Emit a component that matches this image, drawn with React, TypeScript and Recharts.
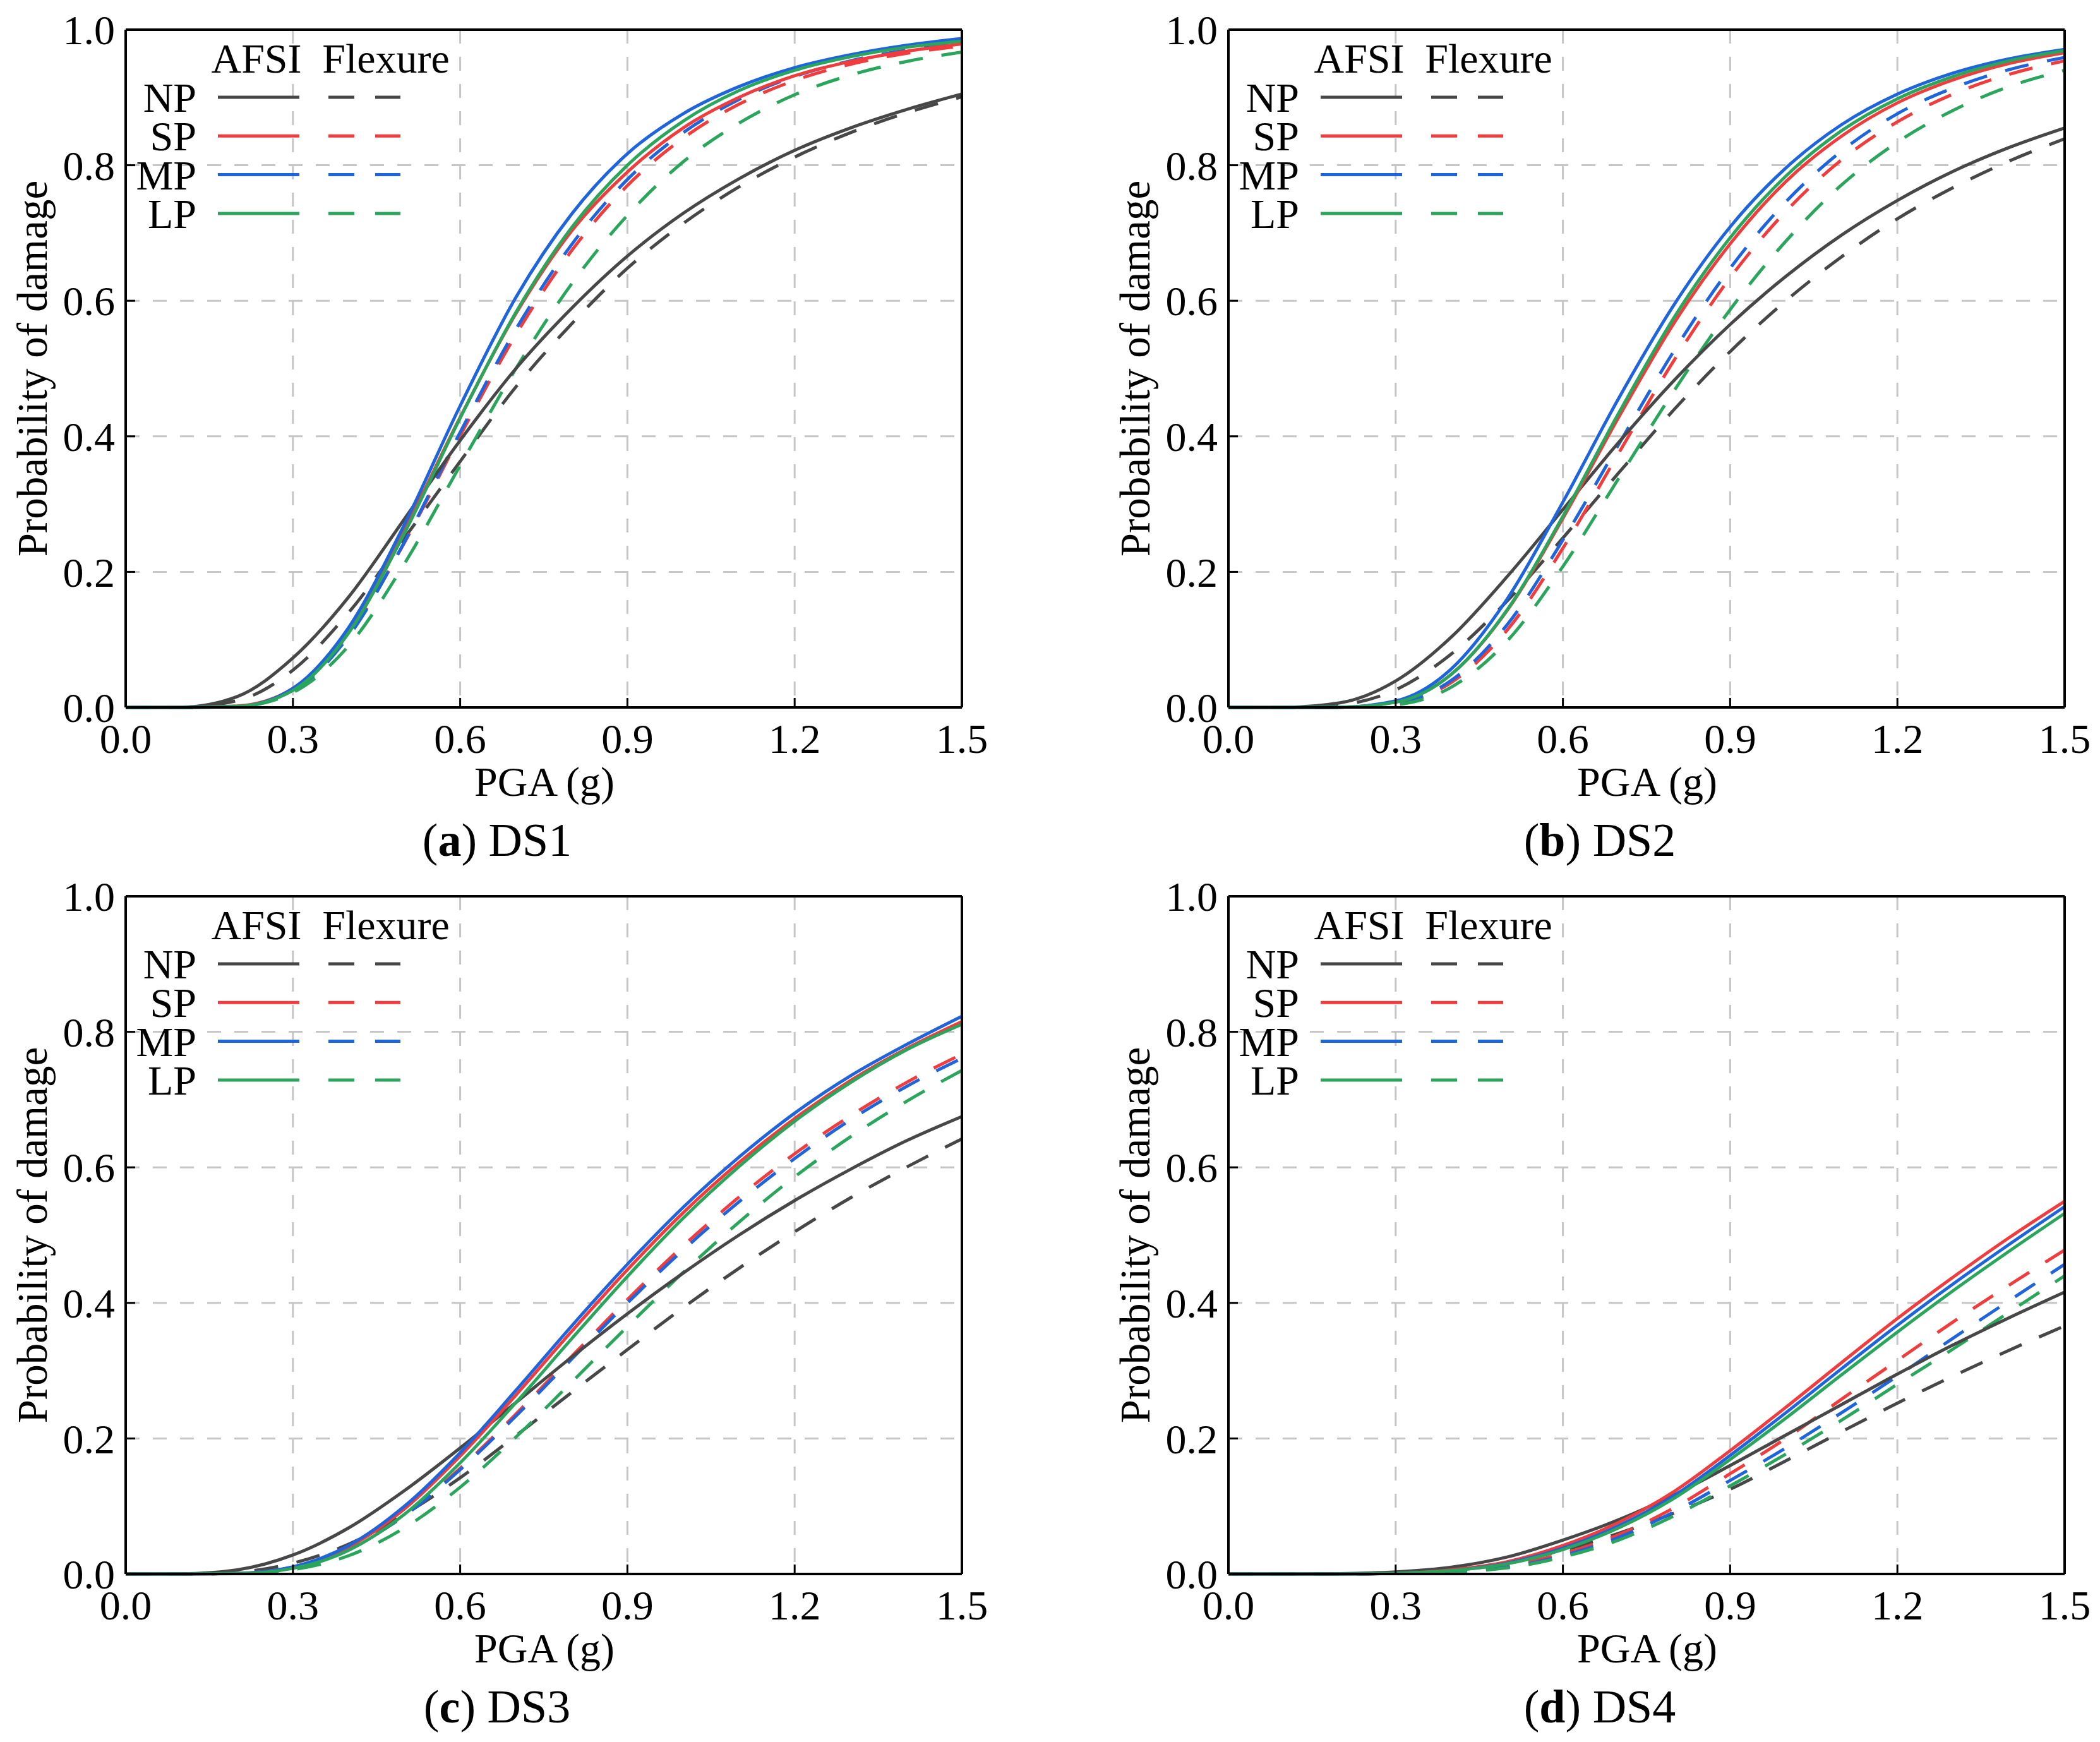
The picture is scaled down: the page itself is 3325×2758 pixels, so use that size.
import React from "react";
import { LineChart, Line, XAxis, YAxis, CartesianGrid } from "recharts";

// PGA sample points (g)
const pga = [0, 0.1, 0.2, 0.3, 0.4, 0.5, 0.6, 0.7, 0.8, 0.9, 1.0, 1.1, 1.2, 1.3, 1.4, 1.5];
const xTicks = [0, 0.3, 0.6, 0.9, 1.2, 1.5];
const yTicks = [0, 0.2, 0.4, 0.6, 0.8, 1.0];
const groups = ["NP", "SP", "MP", "LP"];
const colors = ["#474747", "#f03c3c", "#1e64dc", "#2aa55c"];

// DS1
const ds1NpAfsi = [0, 0.0004, 0.016, 0.073, 0.163, 0.278, 0.394, 0.5, 0.589, 0.666, 0.729, 0.78, 0.822, 0.855, 0.882, 0.905];
const ds1SpAfsi = [0, 0, 0.002, 0.028, 0.116, 0.262, 0.428, 0.581, 0.703, 0.79, 0.855, 0.9, 0.932, 0.953, 0.968, 0.979];
const ds1MpAfsi = [0, 0, 0.0013, 0.028, 0.118, 0.27, 0.445, 0.605, 0.728, 0.817, 0.876, 0.916, 0.944, 0.963, 0.977, 0.987];
const ds1LpAfsi = [0, 0, 0.0015, 0.025, 0.11, 0.257, 0.427, 0.583, 0.708, 0.8, 0.865, 0.91, 0.94, 0.96, 0.974, 0.983];
const ds1NpFlex = [0, 0.0002, 0.01, 0.055, 0.14, 0.25, 0.363, 0.473, 0.566, 0.648, 0.714, 0.768, 0.812, 0.848, 0.877, 0.901];
const ds1SpFlex = [0, 0, 0.0017, 0.026, 0.107, 0.243, 0.401, 0.55, 0.674, 0.77, 0.84, 0.89, 0.925, 0.949, 0.965, 0.976];
const ds1MpFlex = [0, 0, 0.0014, 0.024, 0.105, 0.244, 0.406, 0.558, 0.683, 0.779, 0.848, 0.897, 0.931, 0.954, 0.97, 0.981];
const ds1LpFlex = [0, 0, 0.0014, 0.022, 0.091, 0.212, 0.357, 0.5, 0.625, 0.726, 0.805, 0.862, 0.904, 0.933, 0.953, 0.967];

// DS2
const ds2NpAfsi = [0, 0.0001, 0.0067, 0.039, 0.104, 0.193, 0.292, 0.391, 0.483, 0.565, 0.636, 0.697, 0.748, 0.791, 0.826, 0.855];
const ds2SpAfsi = [0, 0, 0.0003, 0.008, 0.049, 0.143, 0.279, 0.428, 0.568, 0.684, 0.776, 0.843, 0.892, 0.926, 0.95, 0.966];
const ds2MpAfsi = [0, 0, 0.0003, 0.0096, 0.057, 0.16, 0.303, 0.456, 0.595, 0.709, 0.796, 0.86, 0.905, 0.936, 0.957, 0.971];
const ds2LpAfsi = [0, 0, 0.0003, 0.0076, 0.049, 0.144, 0.282, 0.434, 0.576, 0.693, 0.784, 0.851, 0.898, 0.931, 0.954, 0.969];
const ds2NpFlex = [0, 0, 0.0038, 0.026, 0.079, 0.157, 0.25, 0.346, 0.44, 0.525, 0.6, 0.665, 0.721, 0.767, 0.806, 0.839];
const ds2SpFlex = [0, 0, 0.0002, 0.0054, 0.037, 0.114, 0.235, 0.375, 0.513, 0.634, 0.732, 0.808, 0.864, 0.905, 0.934, 0.954];
const ds2MpFlex = [0, 0, 0.0002, 0.006, 0.04, 0.122, 0.247, 0.388, 0.527, 0.648, 0.746, 0.821, 0.876, 0.914, 0.941, 0.959];
const ds2LpFlex = [0, 0, 0.0001, 0.004, 0.03, 0.098, 0.208, 0.338, 0.468, 0.587, 0.688, 0.771, 0.834, 0.881, 0.916, 0.94];

// DS3
const ds3NpAfsi = [0, 0.0002, 0.0061, 0.028, 0.068, 0.123, 0.186, 0.253, 0.32, 0.384, 0.444, 0.5, 0.551, 0.597, 0.639, 0.675];
const ds3SpAfsi = [0, 0, 0.0009, 0.01, 0.04, 0.096, 0.174, 0.264, 0.358, 0.449, 0.533, 0.607, 0.672, 0.728, 0.775, 0.815];
const ds3MpAfsi = [0, 0, 0.0009, 0.0106, 0.042, 0.1, 0.179, 0.271, 0.366, 0.457, 0.541, 0.615, 0.68, 0.735, 0.781, 0.823];
const ds3LpAfsi = [0, 0, 0.0006, 0.0083, 0.035, 0.088, 0.164, 0.253, 0.347, 0.439, 0.525, 0.601, 0.668, 0.725, 0.773, 0.811];
const ds3NpFlex = [0, 0, 0.0027, 0.016, 0.044, 0.088, 0.142, 0.204, 0.268, 0.331, 0.393, 0.451, 0.505, 0.555, 0.6, 0.642];
const ds3SpFlex = [0, 0, 0.001, 0.0099, 0.037, 0.087, 0.156, 0.236, 0.321, 0.405, 0.484, 0.556, 0.62, 0.676, 0.725, 0.767];
const ds3MpFlex = [0, 0, 0.001, 0.01, 0.037, 0.086, 0.154, 0.233, 0.317, 0.4, 0.478, 0.549, 0.613, 0.67, 0.719, 0.761];
const ds3LpFlex = [0, 0, 0.0005, 0.0065, 0.027, 0.068, 0.128, 0.202, 0.283, 0.365, 0.445, 0.519, 0.586, 0.645, 0.697, 0.743];

// DS4
const ds4NpAfsi = [0, 0, 0.0005, 0.003, 0.01, 0.025, 0.05, 0.08, 0.117, 0.16, 0.205, 0.25, 0.295, 0.338, 0.378, 0.416];
const ds4SpAfsi = [0, 0, 0, 0.001, 0.006, 0.018, 0.042, 0.076, 0.122, 0.182, 0.246, 0.312, 0.377, 0.438, 0.496, 0.55];
const ds4MpAfsi = [0, 0, 0, 0.001, 0.005, 0.016, 0.038, 0.071, 0.116, 0.175, 0.238, 0.303, 0.367, 0.428, 0.486, 0.542];
const ds4LpAfsi = [0, 0, 0, 0.001, 0.005, 0.015, 0.036, 0.068, 0.112, 0.169, 0.23, 0.294, 0.357, 0.418, 0.476, 0.532];
const ds4NpFlex = [0, 0, 0.0003, 0.002, 0.007, 0.017, 0.035, 0.06, 0.09, 0.125, 0.167, 0.21, 0.252, 0.292, 0.33, 0.366];
const ds4SpFlex = [0, 0, 0, 0.001, 0.004, 0.012, 0.03, 0.058, 0.098, 0.148, 0.2, 0.258, 0.315, 0.372, 0.426, 0.478];
const ds4MpFlex = [0, 0, 0, 0.0008, 0.0035, 0.01, 0.027, 0.054, 0.092, 0.138, 0.186, 0.238, 0.292, 0.348, 0.403, 0.457];
const ds4LpFlex = [0, 0, 0, 0.0007, 0.003, 0.009, 0.025, 0.05, 0.086, 0.13, 0.177, 0.227, 0.28, 0.332, 0.386, 0.44];

const FONT = "'Liberation Serif', 'Times New Roman', 'DejaVu Serif', serif";

function buildRows(afsi: number[][], flex: number[][]) {
  return pga.map((x, i) => {
    const row: any = { pga: x };
    groups.forEach((g, k) => {
      row[g + "_afsi"] = afsi[k][i];
      row[g + "_flex"] = flex[k][i];
    });
    return row;
  });
}

const panels = [
  { letter: "a", ds: "DS1", left: 0, top: 0, rows: buildRows([ds1NpAfsi, ds1SpAfsi, ds1MpAfsi, ds1LpAfsi], [ds1NpFlex, ds1SpFlex, ds1MpFlex, ds1LpFlex]) },
  { letter: "b", ds: "DS2", left: 1746, top: 0, rows: buildRows([ds2NpAfsi, ds2SpAfsi, ds2MpAfsi, ds2LpAfsi], [ds2NpFlex, ds2SpFlex, ds2MpFlex, ds2LpFlex]) },
  { letter: "c", ds: "DS3", left: 0, top: 1372, rows: buildRows([ds3NpAfsi, ds3SpAfsi, ds3MpAfsi, ds3LpAfsi], [ds3NpFlex, ds3SpFlex, ds3MpFlex, ds3LpFlex]) },
  { letter: "d", ds: "DS4", left: 1746, top: 1372, rows: buildRows([ds4NpAfsi, ds4SpAfsi, ds4MpAfsi, ds4LpAfsi], [ds4NpFlex, ds4SpFlex, ds4MpFlex, ds4LpFlex]) },
];

const XTick = (props: any) => {
  const { x, y, payload } = props;
  return (
    <g>
      <line x1={x} y1={y} x2={x} y2={y - 15} stroke="#000" strokeWidth={3} />
      <text x={x} y={y + 72} textAnchor="middle" fontSize={66} fontFamily={FONT} fill="#000">
        {Number(payload.value).toFixed(1)}
      </text>
    </g>
  );
};

const YTick = (props: any) => {
  const { x, y, payload } = props;
  return (
    <g>
      <line x1={x} y1={y} x2={x + 15} y2={y} stroke="#000" strokeWidth={3} />
      <text x={x - 17} y={y} dy="0.35em" textAnchor="end" fontSize={66} fontFamily={FONT} fill="#000">
        {Number(payload.value).toFixed(1)}
      </text>
    </g>
  );
};

const CW = 1600;
const CH = 1330;
// plot area: left 199, top 47, width 1324, height 1073
const M = { top: 37, right: 67, bottom: 110, left: 49 };

function Panel({ p }: { p: any }) {
  return (
    <div style={{ position: "absolute", left: p.left, top: p.top, width: CW, height: 1400 }}>
      <div style={{ position: "absolute", left: 0, top: 0 }}>
        <LineChart width={CW} height={CH} data={p.rows} margin={M}>
          <CartesianGrid stroke="#c6c6c6" strokeWidth={3} strokeDasharray="22 21" />
          {groups.map((g, k) => (
            <Line
              key={g + "f"}
              type="monotone"
              dataKey={g + "_flex"}
              stroke={colors[k]}
              strokeWidth={5}
              strokeDasharray="38 30"
              dot={false}
              activeDot={false}
              isAnimationActive={false}
            />
          ))}
          {groups.map((g, k) => (
            <Line
              key={g + "a"}
              type="monotone"
              dataKey={g + "_afsi"}
              stroke={colors[k]}
              strokeWidth={5}
              dot={false}
              activeDot={false}
              isAnimationActive={false}
            />
          ))}
          <XAxis
            dataKey="pga"
            type="number"
            domain={[0, 1.5]}
            ticks={xTicks}
            interval={0}
            height={100}
            tickSize={0}
            tickMargin={0}
            tickLine={false}
            axisLine={{ stroke: "#000", strokeWidth: 4 }}
            tick={XTick}
          />
          <XAxis
            xAxisId="top"
            orientation="top"
            type="number"
            dataKey="pga"
            domain={[0, 1.5]}
            height={10}
            tick={false}
            tickLine={false}
            axisLine={{ stroke: "#000", strokeWidth: 4 }}
          />
          <YAxis
            type="number"
            domain={[0, 1]}
            ticks={yTicks}
            interval={0}
            width={150}
            tickSize={0}
            tickMargin={0}
            tickLine={false}
            axisLine={{ stroke: "#000", strokeWidth: 4 }}
            tick={YTick}
          />
          <YAxis
            yAxisId="right"
            orientation="right"
            type="number"
            domain={[0, 1]}
            width={10}
            tick={false}
            tickLine={false}
            axisLine={{ stroke: "#000", strokeWidth: 4 }}
          />
        </LineChart>
      </div>
      <svg
        width={CW}
        height={1400}
        style={{ position: "absolute", left: 0, top: 0, pointerEvents: "none", fontFamily: FONT }}
        fontFamily={FONT}
      >
        <text x={406} y={115} textAnchor="middle" fontSize={66} fill="#000">AFSI</text>
        <text x={611} y={115} textAnchor="middle" fontSize={66} fill="#000">Flexure</text>
        {groups.map((g, k) => {
          const ly = 154 + k * 61.3;
          return (
            <g key={g}>
              <text x={311} y={ly + 23} textAnchor="end" fontSize={66} fill="#000">{g}</text>
              <line x1={345} y1={ly} x2={474} y2={ly} stroke={colors[k]} strokeWidth={5} />
              <line x1={520} y1={ly} x2={634} y2={ly} stroke={colors[k]} strokeWidth={5} strokeDasharray="41 33" />
            </g>
          );
        })}
        <text
          x={74}
          y={583.5}
          transform="rotate(-90 74 583.5)"
          textAnchor="middle"
          fontSize={67}
          fill="#000"
        >
          Probability of damage
        </text>
        <text x={862} y={1260} textAnchor="middle" fontSize={66} fill="#000">PGA (g)</text>
        <text x={787} y={1355} textAnchor="middle" fontSize={74} fill="#000">
          (<tspan fontWeight="bold">{p.letter}</tspan>) {p.ds}
        </text>
      </svg>
    </div>
  );
}

export default function App() {
  return (
    <div
      style={{
        position: "absolute",
        left: 0,
        top: 0,
        width: 3325,
        height: 2758,
        background: "#fff",
        fontFamily: FONT,
        overflow: "hidden",
      }}
    >
      {panels.map((p) => (
        <Panel key={p.letter} p={p} />
      ))}
    </div>
  );
}
